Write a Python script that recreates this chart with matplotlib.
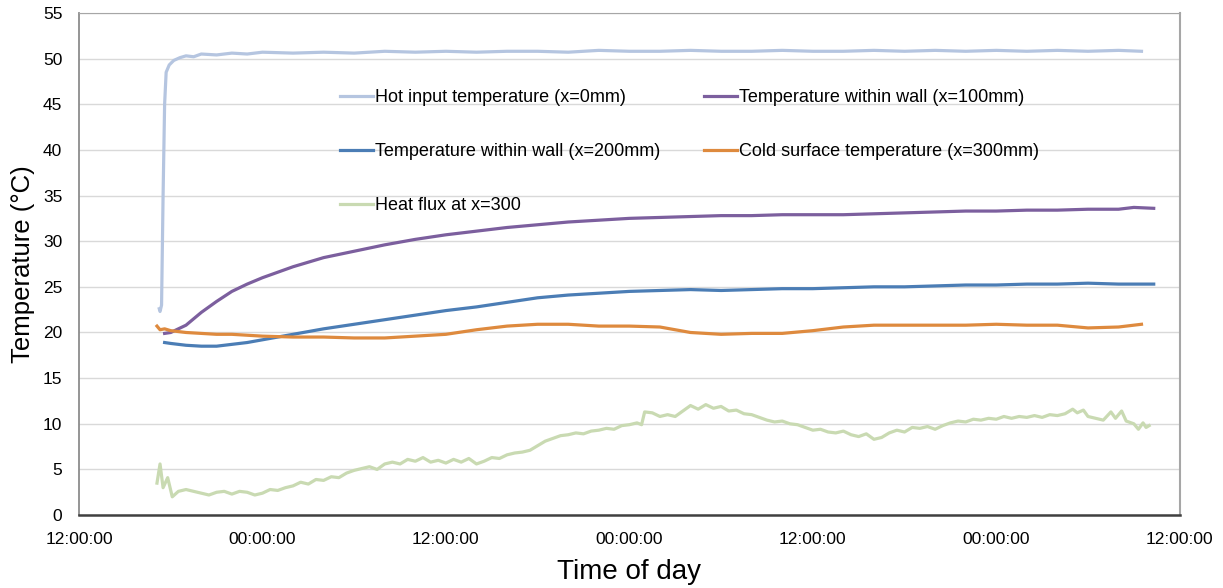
import matplotlib
matplotlib.use("Agg")
import matplotlib.pyplot as plt

# time axis in hours from 12:00:00 on the first day
tick_hours = [0, 12, 24, 36, 48, 60, 72]
tick_labels = ["12:00:00", "00:00:00", "12:00:00", "00:00:00", "12:00:00", "00:00:00", "12:00:00"]

hot_t = [5.25, 5.3, 5.4, 5.5, 5.6, 5.7, 5.9, 6.2, 6.6, 7, 7.5, 8, 9, 10, 11, 12, 14, 16, 18, 20,
         22, 24, 26, 28, 30, 32, 34, 36, 38, 40, 42, 44, 46, 48, 50, 52, 54, 56, 58, 60,
         62, 64, 66, 68, 69.5]
hot_v = [22.6, 22.3, 23.0, 35.0, 45.0, 48.5, 49.3, 49.8, 50.1, 50.3, 50.2, 50.5, 50.4, 50.6, 50.5, 50.7, 50.6, 50.7, 50.6, 50.8,
         50.7, 50.8, 50.7, 50.8, 50.8, 50.7, 50.9, 50.8, 50.8, 50.9, 50.8, 50.8, 50.9, 50.8, 50.8, 50.9, 50.8, 50.9, 50.8, 50.9,
         50.8, 50.9, 50.8, 50.9, 50.8]

wall100_t = [5.6, 6, 7, 8, 9, 10, 11, 12, 14, 16, 18, 20, 22, 24, 26, 28, 30, 32, 34, 36,
             38, 40, 42, 44, 46, 48, 50, 52, 54, 56, 58, 60, 62, 64, 66, 68, 69, 70.3]
wall100_v = [19.9, 20.0, 20.8, 22.2, 23.4, 24.5, 25.3, 26.0, 27.2, 28.2, 28.9, 29.6, 30.2, 30.7, 31.1, 31.5, 31.8, 32.1, 32.3, 32.5,
             32.6, 32.7, 32.8, 32.8, 32.9, 32.9, 32.9, 33.0, 33.1, 33.2, 33.3, 33.3, 33.4, 33.4, 33.5, 33.5, 33.7, 33.6]

wall200_t = [5.6, 6, 7, 8, 9, 10, 11, 12, 14, 16, 18, 20, 22, 24, 26, 28, 30, 32, 34, 36,
             38, 40, 42, 44, 46, 48, 50, 52, 54, 56, 58, 60, 62, 64, 66, 68, 70.3]
wall200_v = [18.9, 18.8, 18.6, 18.5, 18.5, 18.7, 18.9, 19.2, 19.8, 20.4, 20.9, 21.4, 21.9, 22.4, 22.8, 23.3, 23.8, 24.1, 24.3, 24.5,
             24.6, 24.7, 24.6, 24.7, 24.8, 24.8, 24.9, 25.0, 25.0, 25.1, 25.2, 25.2, 25.3, 25.3, 25.4, 25.3, 25.3]

cold_t = [5.1, 5.3, 5.6, 6, 7, 8, 9, 10, 11, 12, 14, 16, 18, 20, 22, 24, 26, 28, 30, 32,
          34, 36, 38, 40, 42, 44, 46, 48, 50, 52, 54, 56, 58, 60, 62, 64, 66, 68, 69.5]
cold_v = [20.7, 20.3, 20.4, 20.2, 20.0, 19.9, 19.8, 19.8, 19.7, 19.6, 19.5, 19.5, 19.4, 19.4, 19.6, 19.8, 20.3, 20.7, 20.9, 20.9,
          20.7, 20.7, 20.6, 20.0, 19.8, 19.9, 19.9, 20.2, 20.6, 20.8, 20.8, 20.8, 20.8, 20.9, 20.8, 20.8, 20.5, 20.6, 20.9]

flux_t = [5.1, 5.3, 5.5, 5.8, 6.1, 6.5, 7.0, 7.5, 8.0, 8.5, 9.0, 9.5, 10.0, 10.5, 11.0, 11.5, 12.0, 12.5, 13.0, 13.5,
          14.0, 14.5, 15.0, 15.5, 16.0, 16.5, 17.0, 17.5, 18.0, 18.5, 19.0, 19.5, 20.0, 20.5, 21.0, 21.5, 22.0, 22.5, 23.0, 23.5,
          24.0, 24.5, 25.0, 25.5, 26.0, 26.5, 27.0, 27.5, 28.0, 28.5, 29.0, 29.5, 30.0, 30.5, 31.0, 31.5, 32.0, 32.5, 33.0, 33.5,
          34.0, 34.5, 35.0, 35.5, 36.0, 36.5, 36.8, 37.0, 37.5, 38.0, 38.5, 39.0, 39.5, 40.0, 40.5, 41.0, 41.5, 42.0, 42.5, 43.0,
          43.5, 44.0, 44.5, 45.0, 45.5, 46.0, 46.5, 47.0, 47.5, 48.0, 48.5, 49.0, 49.5, 50.0, 50.5, 51.0, 51.5, 52.0, 52.5, 53.0,
          53.5, 54.0, 54.5, 55.0, 55.5, 56.0, 56.5, 57.0, 57.5, 58.0, 58.5, 59.0, 59.5, 60.0, 60.5, 61.0, 61.5, 62.0, 62.5, 63.0,
          63.5, 64.0, 64.5, 65.0, 65.3, 65.7, 66.0, 66.5, 67.0, 67.5, 67.8, 68.2, 68.5, 69.0, 69.3, 69.6, 69.8, 70.0]
flux_v = [3.5, 5.6, 3.0, 4.1, 2.0, 2.6, 2.8, 2.6, 2.4, 2.2, 2.5, 2.6, 2.3, 2.6, 2.5, 2.2, 2.4, 2.8, 2.7, 3.0,
          3.2, 3.6, 3.4, 3.9, 3.8, 4.2, 4.1, 4.6, 4.9, 5.1, 5.3, 5.0, 5.6, 5.8, 5.6, 6.1, 5.9, 6.3, 5.8, 6.0,
          5.7, 6.1, 5.8, 6.2, 5.6, 5.9, 6.3, 6.2, 6.6, 6.8, 6.9, 7.1, 7.6, 8.1, 8.4, 8.7, 8.8, 9.0, 8.9, 9.2,
          9.3, 9.5, 9.4, 9.8, 9.9, 10.1, 9.9, 11.3, 11.2, 10.8, 11.0, 10.8, 11.4, 12.0, 11.6, 12.1, 11.7, 11.9, 11.4, 11.5,
          11.1, 11.0, 10.7, 10.4, 10.2, 10.3, 10.0, 9.9, 9.6, 9.3, 9.4, 9.1, 9.0, 9.2, 8.8, 8.6, 8.9, 8.3, 8.5, 9.0,
          9.3, 9.1, 9.6, 9.5, 9.7, 9.4, 9.8, 10.1, 10.3, 10.2, 10.5, 10.4, 10.6, 10.5, 10.8, 10.6, 10.8, 10.7, 10.9, 10.7,
          11.0, 10.9, 11.1, 11.6, 11.2, 11.5, 10.8, 10.6, 10.4, 11.3, 10.6, 11.4, 10.3, 10.0, 9.4, 10.1, 9.6, 9.8]

plt.rcParams["font.family"] = ["Liberation Sans", "DejaVu Sans"]

fig = plt.figure(figsize=(12.23, 5.88), dpi=100)
ax = fig.add_axes([0.0646, 0.124, 0.9, 0.854])

lw = 2.3
l_hot, = ax.plot(hot_t, hot_v, color="#b5c5e0", lw=lw, label="Hot input temperature (x=0mm)")
l_100, = ax.plot(wall100_t, wall100_v, color="#7c5f9e", lw=lw, label="Temperature within wall (x=100mm)")
l_200, = ax.plot(wall200_t, wall200_v, color="#4b7db5", lw=lw, label="Temperature within wall (x=200mm)")
l_cold, = ax.plot(cold_t, cold_v, color="#de8a3e", lw=lw, label="Cold surface temperature (x=300mm)")
l_flux, = ax.plot(flux_t, flux_v, color="#c9dab2", lw=lw, label="Heat flux at x=300")

ax.set_xlim(0, 72)
ax.set_ylim(0, 55)
ax.set_yticks(range(0, 56, 5))
ax.set_xticks(tick_hours)
ax.set_xticklabels(tick_labels)
ax.tick_params(length=0, labelsize=12.5, colors="black")
ax.tick_params(axis="x", pad=12)
ax.tick_params(axis="y", pad=12)

ax.grid(axis="y", color="#d9d9d9", lw=1)
ax.set_axisbelow(True)
ax.spines["left"].set_color("#8c8c8c")
ax.spines["left"].set_linewidth(1.3)
ax.spines["top"].set_color("#a6a6a6")
ax.spines["right"].set_color("#a6a6a6")
ax.spines["right"].set_linewidth(1.5)
ax.spines["bottom"].set_color("#404040")
ax.spines["bottom"].set_linewidth(1.8)

ax.set_ylabel("Temperature (\u00b0C)", fontsize=18.5, labelpad=6)
ax.set_xlabel("Time of day", fontsize=20, labelpad=9)

ax.legend(handles=[l_hot, l_200, l_flux, l_100, l_cold], ncol=2, frameon=False,
          loc="upper left", bbox_to_anchor=(340 / 1223, 1 - 89 / 588), bbox_transform=fig.transFigure,
          fontsize=13, labelspacing=2.05, handlelength=1.85, handletextpad=0.1,
          columnspacing=2.4, borderpad=0, borderaxespad=0)

fig.savefig("out.png", dpi=100)
